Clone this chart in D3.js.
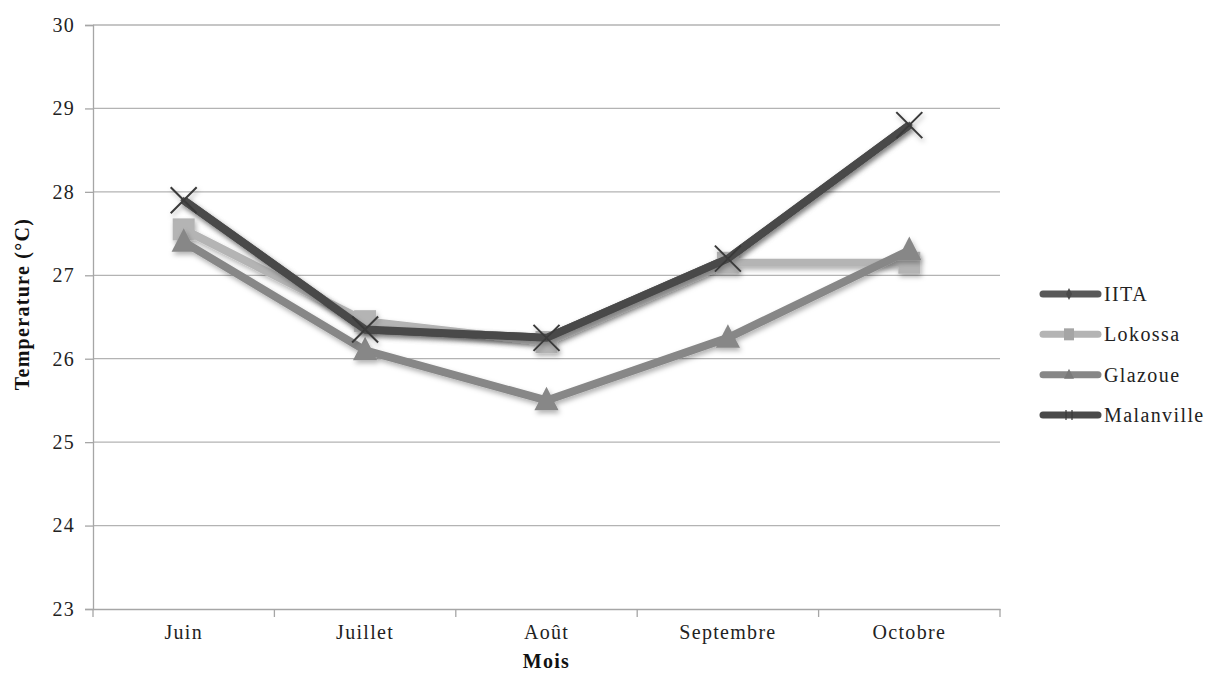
<!DOCTYPE html>
<html><head><meta charset="utf-8">
<script src="https://cdn.jsdelivr.net/npm/d3@7"></script>
<style>body{margin:0;background:#fff}svg{display:block}text{font-family:"Liberation Serif","DejaVu Serif",serif}</style>
</head><body>
<svg id="c" width="1208" height="674"></svg>
<script>
const months = ["Juin","Juillet","Août","Septembre","Octobre"];
const seriesNames = ["IITA","Lokossa","Glazoue","Malanville"];
const iita = [27.9, 26.35, 26.25, 27.2, 28.8];
const lokossa = [27.55, 26.45, 26.2, 27.15, 27.15];
const glazoue = [27.4, 26.1, 25.5, 26.25, 27.3];
const malanville = [27.9, 26.35, 26.25, 27.2, 28.8];
const yTicks = [23,24,25,26,27,28,29,30];

const series = [
  {name:"IITA", values:iita, color:"#595959", marker:"diamond"},
  {name:"Lokossa", values:lokossa, color:"#b4b4b4", marker:"square"},
  {name:"Glazoue", values:glazoue, color:"#878787", marker:"triangle"},
  {name:"Malanville", values:malanville, color:"#4a4a4a", marker:"x"}
];

const svg = d3.select("#c");
const defs = svg.append("defs");
const f = defs.append("filter").attr("id","sh").attr("x","-20%").attr("y","-20%").attr("width","140%").attr("height","140%");
f.append("feDropShadow").attr("dx",1.5).attr("dy",3).attr("stdDeviation",2.5).attr("flood-color","#000").attr("flood-opacity",0.3);

const L=93, R=1000, T=25, B=609;
const FS = 20, LS = "1.3px";
const x = d3.scaleBand().domain(months).range([L,R]);
const y = d3.scaleLinear().domain([23,30]).range([B,T]);

// gridlines
svg.append("g").selectAll("line").data(yTicks.filter(d=>d>23)).join("line")
  .attr("x1",L).attr("x2",R).attr("y1",d=>y(d)).attr("y2",d=>y(d))
  .attr("stroke","#b3b3b3").attr("stroke-width",1.3);

// y axis
const ya = svg.append("g").attr("transform",`translate(${L},0)`)
  .call(d3.axisLeft(y).tickValues(yTicks).tickFormat(d3.format("d")).tickSize(8).tickPadding(10));
ya.attr("font-family",null);
ya.select(".domain").attr("stroke","#a6a6a6").attr("stroke-width",1.3);
ya.selectAll(".tick line").attr("stroke","#a6a6a6").attr("stroke-width",1.3);
ya.selectAll("text").attr("font-size",FS).attr("fill","#222").attr("letter-spacing",LS);

// x axis
const xa = svg.append("g").attr("transform",`translate(0,${B})`)
  .call(d3.axisBottom(x).tickSize(0).tickPadding(16));
xa.attr("font-family",null);
xa.select(".domain").attr("stroke","#a6a6a6").attr("stroke-width",1.3);
xa.selectAll("text").attr("font-size",FS).attr("fill","#222").attr("letter-spacing",LS);
// boundary ticks
const bounds = months.map(m=>x(m)).concat([R]);
svg.append("g").selectAll("line").data(bounds).join("line")
  .attr("x1",d=>d).attr("x2",d=>d).attr("y1",B).attr("y2",B+8)
  .attr("stroke","#a6a6a6").attr("stroke-width",1.3);

// titles
svg.append("text").attr("x",(L+R)/2).attr("y",668).attr("text-anchor","middle")
  .attr("font-size",FS).attr("font-weight","bold").attr("letter-spacing",LS).attr("fill","#111").text("Mois");
svg.append("text").attr("transform",`translate(29,304) rotate(-90)`).attr("text-anchor","middle")
  .attr("font-size",FS).attr("font-weight","bold").attr("letter-spacing",LS).attr("fill","#111").text("Temperature (°C)");

const cx = m => x(m) + x.bandwidth()/2;
const line = d3.line().x((d,i)=>cx(months[i])).y(d=>y(d));

function drawMarker(g, type, px, py, color, s){
  if(type==="square"){
    g.append("rect").attr("x",px-s/2).attr("y",py-s/2).attr("width",s).attr("height",s).attr("fill",color);
  } else if(type==="triangle"){
    g.append("path").attr("d",`M${px},${py-s*0.62}L${px+s*0.55},${py+s*0.45}L${px-s*0.55},${py+s*0.45}Z`).attr("fill",color);
  } else if(type==="diamond"){
    g.append("path").attr("d",`M${px},${py-s/2}L${px+s/2},${py}L${px},${py+s/2}L${px-s/2},${py}Z`).attr("fill",color);
  } else if(type==="x"){
    const h=s/2;
    g.append("path").attr("d",`M${px-h},${py-h}L${px+h},${py+h}M${px-h},${py+h}L${px+h},${py-h}`)
      .attr("stroke","#3a3a3a").attr("stroke-width",2).attr("fill","none");
  }
}

series.forEach(s=>{
  const g = svg.append("g").attr("filter","url(#sh)");
  g.append("path").datum(s.values).attr("d",line).attr("fill","none")
    .attr("stroke",s.color).attr("stroke-width",8).attr("stroke-linejoin","round");
  s.values.forEach((v,i)=>{
    const sz = s.marker==="x"?26:(s.marker==="diamond"?7:22);
    drawMarker(g, s.marker, cx(months[i]), y(v), s.color, sz);
  });
});

// legend
const lg = svg.append("g");
const ly = d3.scalePoint().domain(seriesNames).range([294,415]);
series.forEach(s=>{
  const yy = ly(s.name);
  const g = lg.append("g");
  g.append("line").attr("x1",1043).attr("x2",1098).attr("y1",yy).attr("y2",yy)
    .attr("stroke",s.color).attr("stroke-width",7).attr("stroke-linecap","round");
  if(s.marker==="square") g.append("rect").attr("x",1064).attr("y",yy-6).attr("width",10).attr("height",12).attr("fill","#a5a5a5");
  if(s.marker==="triangle") g.append("path").attr("d",`M1069,${yy-6}L1074,${yy+4}L1064,${yy+4}Z`).attr("fill","#7a7a7a");
  if(s.marker==="diamond") g.append("path").attr("d",`M1069,${yy-6}L1072,${yy}L1069,${yy+6}L1066,${yy}Z`).attr("fill","#4a4a4a");
  if(s.marker==="x") g.append("path").attr("d",`M1066,${yy-5}L1066,${yy+5}M1072,${yy+5}L1072,${yy-5}`).attr("stroke","#3a3a3a").attr("stroke-width",1.2);
  g.append("text").attr("x",1104).attr("y",yy).attr("dy","0.35em").attr("font-size",FS).attr("letter-spacing","1.4px").attr("fill","#222").text(s.name);
});
</script>
</body></html>
